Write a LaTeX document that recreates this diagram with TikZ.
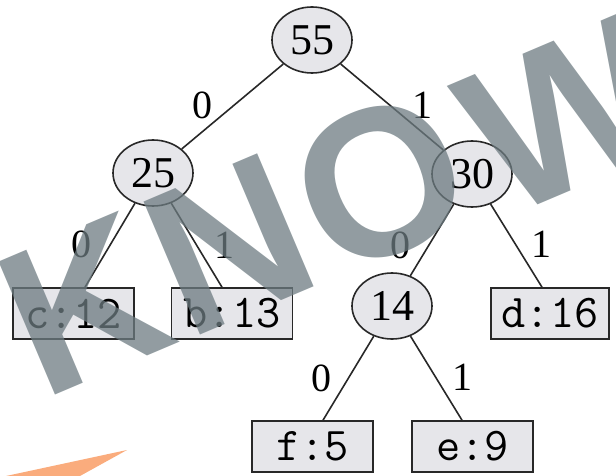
\documentclass[tikz,border=0pt]{standalone}
\usepackage{fontspec}
\setmainfont{Liberation Serif}
\newfontfamily\wmfont{Liberation Sans}
\usetikzlibrary{shapes.geometric}
\definecolor{nodefill}{RGB}{230,230,234}
\definecolor{edgecol}{RGB}{40,40,40}
\definecolor{wmgray}{RGB}{109,123,129}
\definecolor{wmorange}{RGB}{250,172,125}
\begin{document}
\begin{tikzpicture}[x=1pt,y=-1pt,
  inode/.style={ellipse, draw=edgecol, line width=1.6pt, fill=nodefill,
    minimum width=80pt, minimum height=66pt, inner sep=0pt,
    font=\fontsize{44}{48}\selectfont},
  leaf/.style={rectangle, draw=edgecol, line width=1.6pt, fill=nodefill,
    minimum width=121pt, minimum height=51pt, inner sep=0pt,
    font=\ttfamily\fontsize{47}{50}\selectfont},
  link/.style={draw=edgecol, line width=1.6pt},
  bit/.style={font=\fontsize{40}{44}\selectfont, inner sep=0pt},
  wm/.style={font=\wmfont\bfseries\fontsize{210}{210}\selectfont,
    text=wmgray, opacity=0.75, rotate=23, inner sep=0pt}]
\useasboundingbox (0,0) rectangle (616,476);
% orange stroke
\fill[wmorange] (6,476) -- (127,450) -- (80,476) -- cycle;
% nodes
\node[inode] (n55) at (312,40) {55};
\node[inode] (n25) at (153,173) {25};
\node[inode] (n30) at (472,174) {30};
\node[inode] (n14) at (392,306) {14};
\node[leaf] (c) at (73.5,313.5) {c:12};
\node[leaf] (b) at (232,313.5) {b:13};
\node[leaf, minimum width=118pt] (d) at (550,313.5) {d:16};
\node[leaf] (f) at (312.5,446.5) {f:5};
\node[leaf] (e) at (472.5,446.5) {e:9};
% connectors
\draw[link] (n55) -- (n25);
\draw[link] (n55) -- (n30);
\draw[link] (n25) -- ([xshift=11.5pt]c.north);
\draw[link] (n25) -- ([xshift=-10pt]b.north);
\draw[link] (n30) -- (n14);
\draw[link] (n30) -- ([xshift=-8pt]d.north);
\draw[link] (n14) -- ([xshift=10.5pt]f.north);
\draw[link] (n14) -- ([xshift=-10.5pt]e.north);
% bit labels
\node[bit] (l1) at (202,105) {0};
\node[bit] (l2) at (422,105) {1};
\node[bit] (l3) at (81,244) {0};
\node[bit] (l4) at (224,245) {1};
\node[bit] (l5) at (400,245) {0};
\node[bit] (l6) at (541,244) {1};
\node[bit] (l7) at (321,378) {0};
\node[bit] (l8) at (462,377) {1};
% watermark
\node[wm] (wK) at (84,304) {K};
\node[wm] (wN) at (229,244) {N};
\node[wm] (wO) at (380,182) {O};
\node[wm] (wW) at (566,114) {W};
\end{tikzpicture}
\end{document}
